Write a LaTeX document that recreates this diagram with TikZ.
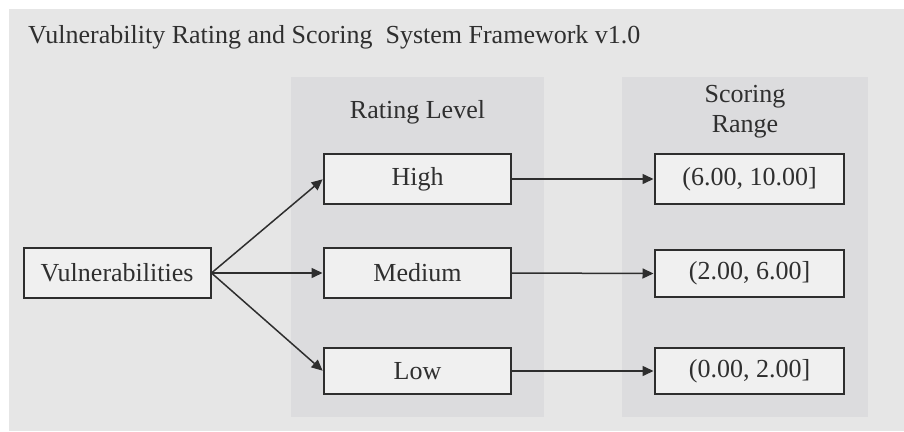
\documentclass[tikz,border=0pt]{standalone}
\usepackage{fontspec}
\setmainfont{Liberation Serif}
\usetikzlibrary{arrows.meta}
\definecolor{outerbg}{HTML}{E6E6E6}
\definecolor{panelbg}{HTML}{DCDCDE}
\definecolor{boxbg}{HTML}{F0F0F0}
\definecolor{ink}{HTML}{2E2E2E}
\definecolor{txt}{HTML}{2F2F2F}
\tikzset{
  x=1pt, y=-1pt,
  panel/.style={fill=panelbg, draw=none},
  itembox/.style={draw=ink, line width=2pt, fill=boxbg, text=txt,
    inner sep=0pt, font=\fontsize{26}{30}\selectfont},
  label/.style={text=txt, inner sep=0pt, font=\fontsize{26}{30}\selectfont},
  link/.style={draw=ink, line width=1.5pt,
    -{Triangle[length=11pt,width=10pt]}, shorten >=0.5pt}
}
\begin{document}
\begin{tikzpicture}
  % page area and framework background
  \useasboundingbox (0,0) rectangle (904,431);
  \fill[white] (0,0) rectangle (904,431);
  \fill[outerbg] (9,9) rectangle (904,431);

  \node[label, anchor=base west] (title) at (28,43)
    {Vulnerability Rating and Scoring\ \ System Framework v1.0};

  % column panels
  \fill[panel] (291,77) rectangle (544,417);
  \fill[panel] (622,77) rectangle (868,417);
  \node[label, anchor=base] (ratinghead) at (417.5,118) {Rating Level};
  \node[label, anchor=base] (scorehead1) at (745,102) {Scoring};
  \node[label, anchor=base] (scorehead2) at (745,132) {Range};

  % boxes
  \node[itembox, minimum width=187pt, minimum height=50pt] (vul) at (117,273) {Vulnerabilities};
  \node[itembox, minimum width=187pt, minimum height=50pt] (high) at (417.5,179) {High};
  \node[itembox, minimum width=187pt, minimum height=50pt] (med) at (417.5,273) {Medium};
  \node[itembox, minimum width=187pt, minimum height=46pt] (low) at (417.5,371) {Low};
  \node[itembox, minimum width=189pt, minimum height=50pt] (shigh) at (749.5,179) {(6.00, 10.00]};
  \node[itembox, minimum width=189pt, minimum height=47pt] (smed) at (749.5,273.5) {(2.00, 6.00]};
  \node[itembox, minimum width=189pt, minimum height=46pt] (slow) at (749.5,371) {(0.00, 2.00]};

  % connectors
  \draw[link] (vul.east) -- (high.west);
  \draw[link] (vul.east) -- (med.west);
  \draw[link] (vul.east) -- (low.west);
  \draw[link] (high.east) -- (shigh.west);
  \draw[link] (med.east) -- (smed.west);
  \draw[link] (low.east) -- (slow.west);
\end{tikzpicture}
\end{document}
